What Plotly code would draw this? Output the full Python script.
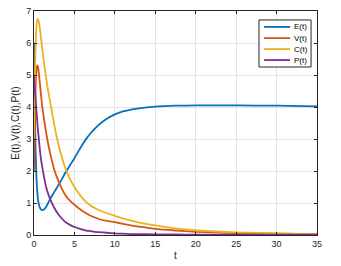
import plotly.graph_objects as go

t = [0, 0.05, 0.1, 0.15, 0.2, 0.3, 0.4, 0.5, 0.6, 0.7, 0.8, 0.9, 1.0, 1.25, 1.5, 1.75, 2, 2.5, 3, 3.5, 4, 4.5, 5, 5.5, 6, 6.5, 7, 7.5, 8, 9, 10, 11, 12, 13, 15, 17.5, 20, 22.5, 25, 30, 35]
E = [6.0, 4.9, 4.0, 3.2, 2.6, 1.8, 1.35, 1.1, 0.96, 0.87, 0.82, 0.79, 0.78, 0.8, 0.88, 1.0, 1.13, 1.34, 1.55, 1.77, 2.0, 2.2, 2.4, 2.62, 2.83, 3.02, 3.18, 3.32, 3.44, 3.63, 3.77, 3.86, 3.92, 3.96, 4.01, 4.04, 4.05, 4.05, 4.05, 4.04, 4.02]
V = [2.0, 2.8, 3.5, 4.1, 4.6, 5.15, 5.3, 5.25, 5.05, 4.8, 4.55, 4.3, 4.05, 3.6, 3.2, 2.85, 2.55, 2.05, 1.7, 1.42, 1.2, 1.06, 0.95, 0.84, 0.75, 0.67, 0.6, 0.55, 0.5, 0.44, 0.4, 0.35, 0.3, 0.26, 0.19, 0.14, 0.1, 0.08, 0.06, 0.04, 0.03]
C = [3.0, 4.0, 4.8, 5.4, 5.9, 6.5, 6.72, 6.75, 6.65, 6.5, 6.3, 6.08, 5.85, 5.35, 4.9, 4.5, 4.15, 3.45, 2.85, 2.38, 2.0, 1.72, 1.5, 1.31, 1.15, 1.02, 0.92, 0.84, 0.78, 0.68, 0.6, 0.52, 0.45, 0.39, 0.3, 0.21, 0.15, 0.11, 0.08, 0.05, 0.03]
P = [5.0, 4.8, 4.6, 4.42, 4.25, 3.9, 3.55, 3.25, 3.0, 2.73, 2.5, 2.31, 2.15, 1.8, 1.5, 1.29, 1.12, 0.85, 0.65, 0.5, 0.38, 0.31, 0.25, 0.21, 0.17, 0.14, 0.12, 0.1, 0.09, 0.07, 0.05, 0.04, 0.03, 0.03, 0.02, 0.015, 0.01, 0.01, 0.01, 0.01, 0.01]

names = ["E(t)", "V(t)", "C(t)", "P(t)"]
colors = ["#0072BD", "#D95319", "#EDB120", "#7E2F8E"]

fig = go.Figure()
for name, ys, c in zip(names, [E, V, C, P], colors):
    fig.add_trace(go.Scatter(x=t, y=ys, mode="lines", name=name, showlegend=False,
                             line=dict(color=c, width=1.8, shape="spline", smoothing=0.4)))

font = "Liberation Sans, Arial, sans-serif"
axis_common = dict(showgrid=True, gridcolor="#E3E3E3", gridwidth=1, showline=True,
                   linecolor="#262626", linewidth=1, mirror="ticks", ticks="inside",
                   ticklen=3, tickcolor="#262626", zeroline=False, automargin=False,
                   tickfont=dict(family=font, size=9, color="#262626"))

fig.update_xaxes(range=[0, 35], dtick=5, title=dict(text="t", standoff=4,
                 font=dict(family=font, size=10, color="#262626")), **axis_common)
fig.update_yaxes(range=[0, 7], dtick=1, title=dict(text="E(t),V(t),C(t),P(t)", standoff=4,
                 font=dict(family=font, size=10, color="#262626")), **axis_common)

# Compact MATLAB-style legend box (paper coordinates)
lx0, lx1, ly_top, ly_bot = 0.795, 0.979, 0.960, 0.750
fig.add_shape(type="rect", xref="paper", yref="paper", x0=lx0, x1=lx1, y0=ly_bot, y1=ly_top,
              line=dict(color="#262626", width=1), fillcolor="white", layer="above")
entry_y = [0.929, 0.879, 0.830, 0.781]
for name, c, yy in zip(names, colors, entry_y):
    fig.add_shape(type="line", xref="paper", yref="paper", x0=0.813, x1=0.905, y0=yy, y1=yy,
                  line=dict(color=c, width=1.8), layer="above")
    fig.add_annotation(xref="paper", yref="paper", x=0.910, y=yy, text=name, showarrow=False,
                       xanchor="left", yanchor="middle",
                       font=dict(family=font, size=8, color="#000000"))

fig.update_layout(
    width=341, height=266,
    margin=dict(l=34, r=24, t=11, b=31),
    paper_bgcolor="white", plot_bgcolor="white",
    showlegend=False,
)

fig.write_html("out.html", post_script="document.body.style.margin='0';",
               config={"displayModeBar": False})
